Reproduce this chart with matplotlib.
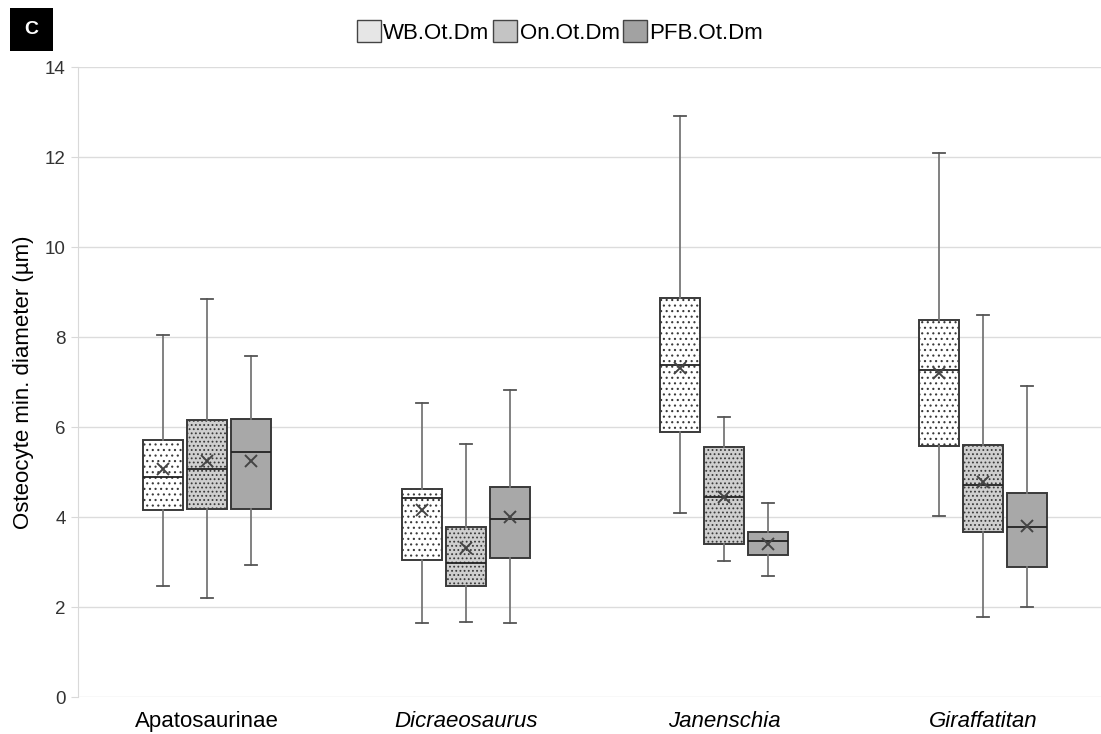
import matplotlib.pyplot as plt
import numpy as np
from matplotlib.patches import Patch, Rectangle

plt.rcParams['font.family'] = ['Liberation Sans', 'DejaVu Sans']
plt.rcParams['hatch.linewidth'] = 0.8

groups = ['Apatosaurinae', 'Dicraeosaurus', 'Janenschia', 'Giraffatitan']
italic = [False, True, True, True]
series = ['WB.Ot.Dm', 'On.Ot.Dm', 'PFB.Ot.Dm']

# box statistics, one list per series (order = groups)
wb_lo   = [2.46, 1.64, 4.09, 4.02]
wb_q1   = [4.16, 3.04, 5.89, 5.58]
wb_med  = [4.89, 4.43, 7.38, 7.27]
wb_q3   = [5.71, 4.62, 8.87, 8.38]
wb_hi   = [8.04, 6.53, 12.91, 12.09]
wb_mean = [5.07, 4.16, 7.31, 7.20]

on_lo   = [2.20, 1.67, 3.02, 1.78]
on_q1   = [4.18, 2.47, 3.40, 3.67]
on_med  = [5.07, 2.98, 4.44, 4.71]
on_q3   = [6.16, 3.78, 5.56, 5.60]
on_hi   = [8.84, 5.62, 6.22, 8.49]
on_mean = [5.24, 3.31, 4.45, 4.78]

pfb_lo   = [2.93, 1.64, 2.69, 2.00]
pfb_q1   = [4.18, 3.09, 3.16, 2.89]
pfb_med  = [5.44, 3.96, 3.47, 3.78]
pfb_q3   = [6.18, 4.67, 3.67, 4.53]
pfb_hi   = [7.58, 6.82, 4.31, 6.91]
pfb_mean = [5.24, 4.00, 3.40, 3.80]

data = [
    (wb_lo, wb_q1, wb_med, wb_q3, wb_hi, wb_mean),
    (on_lo, on_q1, on_med, on_q3, on_hi, on_mean),
    (pfb_lo, pfb_q1, pfb_med, pfb_q3, pfb_hi, pfb_mean),
]
faces = ['white', '#cfcfcf', '#a8a8a8']
hatches = ['...', '....', None]
leg_faces = ['#e6e6e6', '#c4c4c4', '#a2a2a2']

fig = plt.figure(figsize=(11.01, 7.34), dpi=100)
ax = fig.add_axes([78/1101, 37/734, 1 - 78/1101, 630/734])

offsets = [-0.17, 0.0, 0.17]
width = 0.155
x = np.arange(len(groups))
for s, (lo, q1, med, q3, hi, mean) in enumerate(data):
    stats = []
    for i in range(len(groups)):
        stats.append(dict(whislo=lo[i], q1=q1[i], med=med[i], q3=q3[i],
                          whishi=hi[i], mean=mean[i], fliers=[]))
    bp = ax.bxp(stats, positions=x + offsets[s], widths=width, showmeans=True,
                patch_artist=True, showfliers=False,
                boxprops=dict(edgecolor='#3a3a3a', linewidth=1.4),
                medianprops=dict(color='#222222', linewidth=1.3),
                whiskerprops=dict(color='#777777', linewidth=1.3),
                capprops=dict(color='#555555', linewidth=1.3),
                capwidths=0.045,
                meanprops=dict(marker='x', markeredgecolor='#444444',
                               markersize=8, markeredgewidth=1.4))
    for b in bp['boxes']:
        b.set_facecolor(faces[s])
        if hatches[s]:
            b.set_hatch(hatches[s])

ax.set_ylim(0, 14)
ax.set_yticks(np.arange(0, 15, 2))
ax.set_xlim(-0.5, 3.5 - 11/258.7)
ax.set_xticks(x)
ax.set_xticklabels(groups, fontsize=16)
for lab, it in zip(ax.get_xticklabels(), italic):
    if it:
        lab.set_style('italic')
ax.tick_params(axis='x', length=0, pad=10)
ax.tick_params(axis='y', length=5, color='#d9d9d9', labelsize=13.5, pad=4,
               labelcolor='#333333')
ax.yaxis.grid(True, color='#dcdcdc', linewidth=1.0)
ax.set_axisbelow(True)
for sp in ['top', 'right', 'bottom']:
    ax.spines[sp].set_visible(False)
ax.spines['left'].set_color('#d9d9d9')
ax.set_ylabel('Osteocyte min. diameter (µm)', fontsize=16, labelpad=8)

handles = [Patch(facecolor=leg_faces[i], edgecolor='#444444', label=series[i])
           for i in range(3)]
fig.legend(handles=handles, loc='center', bbox_to_anchor=(560/1101, 1 - 32/734),
           ncol=3, frameon=False, fontsize=16, handlelength=1.1, handleheight=1.1,
           handletextpad=0.1, columnspacing=0.15, borderpad=0)

fig.patches.append(Rectangle((10/1101, 1 - 51/734), 43/1101, 43/734,
                             transform=fig.transFigure, facecolor='black',
                             edgecolor='none'))
fig.text(31.5/1101, 1 - 29.5/734, 'C', color='white', fontsize=14,
         fontweight='bold', ha='center', va='center')

fig.savefig('out.png', dpi=100)
